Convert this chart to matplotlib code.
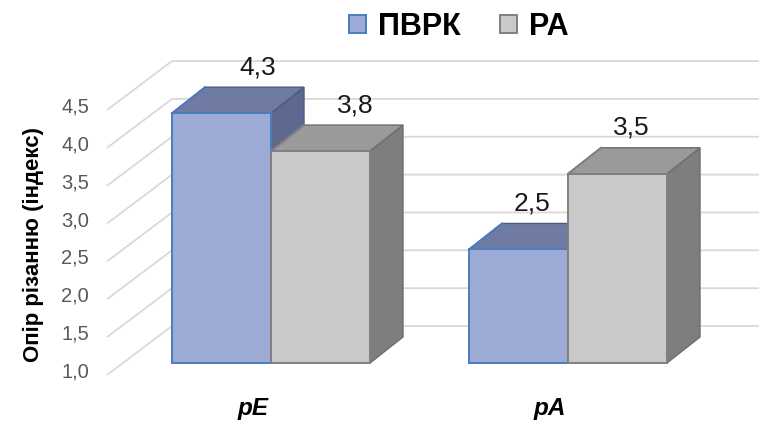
import matplotlib
matplotlib.use("Agg")
import matplotlib.pyplot as plt
from matplotlib.patches import Polygon, Patch

# ---------------- data ----------------
categories = ["pE", "pA"]
series_names = ["ПВРК", "РА"]
pvrk_values = [4.3, 2.5]
ra_values = [3.8, 3.5]
pvrk_labels = ["4,3", "2,5"]
ra_labels = ["3,8", "3,5"]
ytick_values = [1.0, 1.5, 2.0, 2.5, 3.0, 3.5, 4.0, 4.5]
ytick_labels = ["1,0", "1,5", "2,0", "2,5", "3,0", "3,5", "4,0", "4,5"]
y_title = "Опір різанню (індекс)"
y_base = 1.0

# ---------------- layout ----------------
W, H = 759, 425
fig = plt.figure(figsize=(W / 100, H / 100), dpi=100)
ax = fig.add_axes([0, 0, 1, 1])
PX_X = 297.0      # pixels per category step
PX_Y = 75.7       # pixels per value unit
X0 = 271.0        # pixel x of first category centre
Y0 = 62.0         # pixel (from bottom) of base value on bar front plane
ax.set_xlim(-X0 / PX_X, (W - X0) / PX_X)
ax.set_ylim(y_base - Y0 / PX_Y, y_base + (H - Y0) / PX_Y)
ax.axis("off")

FONT = "Liberation Sans"
bar_w = 99.0 / PX_X
depth_dx = 33.0 / PX_X
depth_dy = 26.0 / PX_Y
front_axis_x = (107.0 - X0) / PX_X
front_axis_dy = -12.0 / PX_Y
wall_x = (172.0 - X0) / PX_X
wall_dy = 37.0 / PX_Y
wall_right = (W - X0) / PX_X

# gridlines (floor diagonal + back wall)
grid_c = "#d9d9d9"
for v in ytick_values:
    ax.plot([front_axis_x, wall_x, wall_right],
            [v + front_axis_dy, v + wall_dy, v + wall_dy],
            color=grid_c, lw=1.3, zorder=1, solid_capstyle="butt")

for v, lab in zip(ytick_values, ytick_labels):
    ax.text((89.0 - X0) / PX_X, v + front_axis_dy + 3.0 / PX_Y, lab,
            ha="right", va="center", fontsize=14.5, color="#595959",
            family=FONT)

# ---------------- 3D bars ----------------
styles = [
    dict(front="#9eaad6", top="#6f7ba2", side="#5f6990", edge="#4a7dbf",
         dedge="#4b5a86"),
    dict(front="#c9c9c9", top="#9a9a9a", side="#7e7e7e", edge="#808080",
         dedge="#6e6e6e"),
]
series = [pvrk_values, ra_values]
series_labels = [pvrk_labels, ra_labels]
label_nudge_px = [[20, 18], [-3, -3]]  # [category][series] label x nudge

for j, (vals, st) in enumerate(zip(series, styles)):
    zb = 2 + 3 * j
    xs = [i + (j - 0.5) * bar_w for i in range(len(categories))]
    for x, v in zip(xs, vals):
        l, r = x - bar_w / 2, x + bar_w / 2
        side = Polygon([(r, y_base), (r + depth_dx, y_base + depth_dy),
                        (r + depth_dx, v + depth_dy), (r, v)],
                       closed=True, facecolor=st["side"], edgecolor=st["dedge"],
                       lw=1.0, zorder=zb)
        top = Polygon([(l, v), (l + depth_dx, v + depth_dy),
                       (r + depth_dx, v + depth_dy), (r, v)],
                      closed=True, facecolor=st["top"], edgecolor=st["dedge"],
                      lw=1.0, zorder=zb)
        ax.add_patch(side)
        ax.add_patch(top)
        ax.plot([l, l + depth_dx], [v, v + depth_dy], color=st["edge"],
                lw=1.4, zorder=zb + 0.5)
    ax.bar(xs, [v - y_base for v in vals], bottom=y_base, width=bar_w,
           color=st["front"], edgecolor=st["edge"], linewidth=1.4,
           zorder=zb + 1)
    for k, (x, v, lab) in enumerate(zip(xs, vals, series_labels[j])):
        ax.text(x + depth_dx / 2 + label_nudge_px[k][j] / PX_X,
                v + depth_dy + 8.0 / PX_Y, lab,
                ha="center", va="bottom", fontsize=19, color="#1a1a1a",
                family=FONT)

# category labels
for i, c in enumerate(categories):
    ax.text(i - 18.0 / PX_X, y_base - 46.0 / PX_Y, c, ha="center",
            va="center", fontsize=17.5, fontweight="bold", fontstyle="italic",
            family=FONT, color="#000000")

# y title
fig.text(33.0 / W, 1 - 245.0 / H, y_title, rotation=90, ha="center",
         va="center", fontsize=16, fontweight="bold", family=FONT,
         color="#000000")

# legend
handles = [Patch(facecolor=styles[0]["front"], edgecolor=styles[0]["edge"],
                 lw=1.4),
           Patch(facecolor=styles[1]["front"], edgecolor=styles[1]["edge"],
                 lw=1.4)]
leg = fig.legend(handles, series_names, loc="center",
                 bbox_to_anchor=(459.0 / W, 1 - 27.0 / H), ncol=2,
                 frameon=False, handlelength=0.55, handleheight=0.55,
                 handletextpad=0.4, columnspacing=1.3, borderpad=0.0,
                 prop=dict(family=FONT, size=22, weight="bold"))

fig.savefig("out.png", dpi=100)
